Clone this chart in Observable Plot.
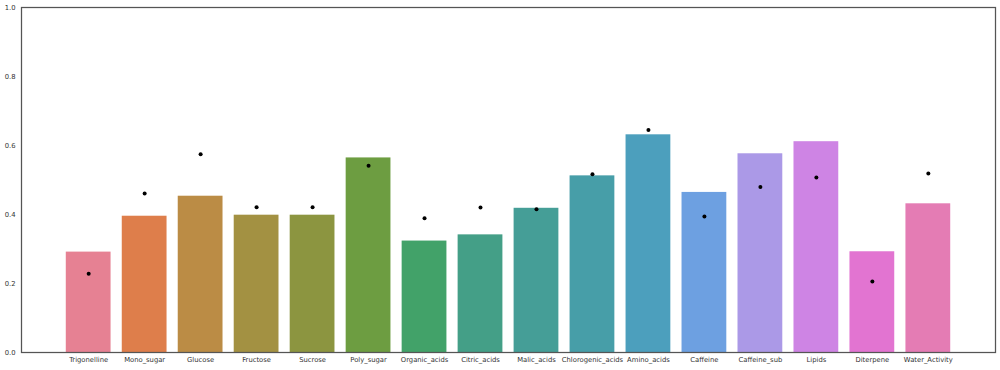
<!DOCTYPE html>
<html>
<head>
<meta charset="utf-8">
<script src="https://cdn.jsdelivr.net/npm/d3@7"></script>
<script src="https://cdn.jsdelivr.net/npm/@observablehq/plot@0.6"></script>
<style>
  html, body { margin: 0; padding: 0; background: #fff; }
  #chart svg { display: block; }
</style>
</head>
<body>
<div id="chart"></div>
<script>
const categories = ["Trigonelline", "Mono_sugar", "Glucose", "Fructose", "Sucrose", "Poly_sugar",
  "Organic_acids", "Citric_acids", "Malic_acids", "Chlorogenic_acids", "Amino_acids", "Caffeine",
  "Caffeine_sub", "Lipids", "Diterpene", "Water_Activity"];
const barValues = [0.291, 0.395, 0.453, 0.398, 0.398, 0.564, 0.323, 0.341, 0.418, 0.512, 0.631, 0.464,
  0.576, 0.611, 0.292, 0.431];
const dotValues = [0.228, 0.461, 0.575, 0.421, 0.421, 0.541, 0.389, 0.420, 0.415, 0.517, 0.645, 0.394,
  0.480, 0.507, 0.206, 0.519];
const yTicks = [0, 0.2, 0.4, 0.6, 0.8, 1.0];

// seaborn-style husl palette (h=0.01, s=0.9, l=0.65), desaturated by 0.75
const M = [[3.2406, -1.5372, -0.4986], [-0.9689, 1.8758, 0.0415], [0.0557, -0.2040, 1.0570]];
function maxChroma(L, H) {
  const hr = H * Math.PI / 180, sinH = Math.sin(hr), cosH = Math.cos(hr);
  const sub1 = Math.pow(L + 16, 3) / 1560896;
  const sub2 = sub1 > 0.008856 ? sub1 : L / 903.3;
  let result = Infinity;
  for (const [m1, m2, m3] of M) {
    const top = (0.99915 * m1 + 1.05122 * m2 + 1.14460 * m3) * sub2;
    const rb = 0.86330 * m3 - 0.17266 * m2;
    const lb = 0.12949 * m3 - 0.38848 * m1;
    const bottom = (rb * sinH + lb * cosH) * sub2;
    for (const t of [0, 1]) {
      const C = L * (top - 1.05122 * t) / (bottom + 0.17266 * sinH * t);
      if (C > 0 && C < result) result = C;
    }
  }
  return result;
}
function huslToRgb(H, S, L) {
  const C = maxChroma(L, H) / 100 * S;
  const hr = H * Math.PI / 180;
  const U = C * Math.cos(hr), V = C * Math.sin(hr);
  const t = (L + 16) / 116;
  const varY = Math.pow(t, 3) > 0.008856 ? Math.pow(t, 3) : (116 * t - 16) / 903.3;
  const varU = U / (13 * L) + 0.19784, varV = V / (13 * L) + 0.46834;
  const Y = varY;
  const X = -(9 * Y * varU) / ((varU - 4) * varV - varU * varV);
  const Z = (9 * Y - 15 * varV * Y - varV * X) / (3 * varV);
  return M.map(r => {
    const c = r[0] * X + r[1] * Y + r[2] * Z;
    const v = c <= 0.0031308 ? 12.92 * c : 1.055 * Math.pow(c, 1 / 2.4) - 0.055;
    return Math.max(0, Math.min(1, v));
  });
}
const n = categories.length;
const palette = categories.map((_, i) => {
  const h = ((i / n + 0.01) % 1) * 359;
  const [r, g, b] = huslToRgb(h, 0.9 * 99, 0.65 * 99);
  const c = d3.hsl(d3.rgb(r * 255, g * 255, b * 255));
  c.s *= 0.75;
  return c.formatHex();
});

const bars = categories.map((c, i) => ({cat: c, value: barValues[i]}));
const dots = categories.map((c, i) => ({cat: c, value: dotValues[i]}));

const chart = Plot.plot({
  width: 1000,
  height: 370,
  marginLeft: 21,
  marginRight: 5,
  marginTop: 7,
  marginBottom: 18,
  style: {fontFamily: "DejaVu Sans, sans-serif", fontSize: "6.8px", color: "#333", background: "#fff"},
  x: {domain: categories, paddingInner: 0.2, paddingOuter: 0.8, round: false, label: null, tickSize: 0, tickPadding: 5},
  y: {domain: [0, 1], ticks: yTicks, tickFormat: d3.format(".1f"), label: null, tickSize: 0, tickPadding: 6},
  color: {domain: categories, range: palette},
  marks: [
    Plot.barY(bars, {x: "cat", y: "value", fill: "cat"}),
    Plot.dot(dots, {x: "cat", y: "value", r: 2, fill: "black", stroke: null}),
    Plot.frame({stroke: "#555", strokeWidth: 1.25})
  ]
});
document.getElementById("chart").appendChild(chart);
</script>
</body>
</html>
